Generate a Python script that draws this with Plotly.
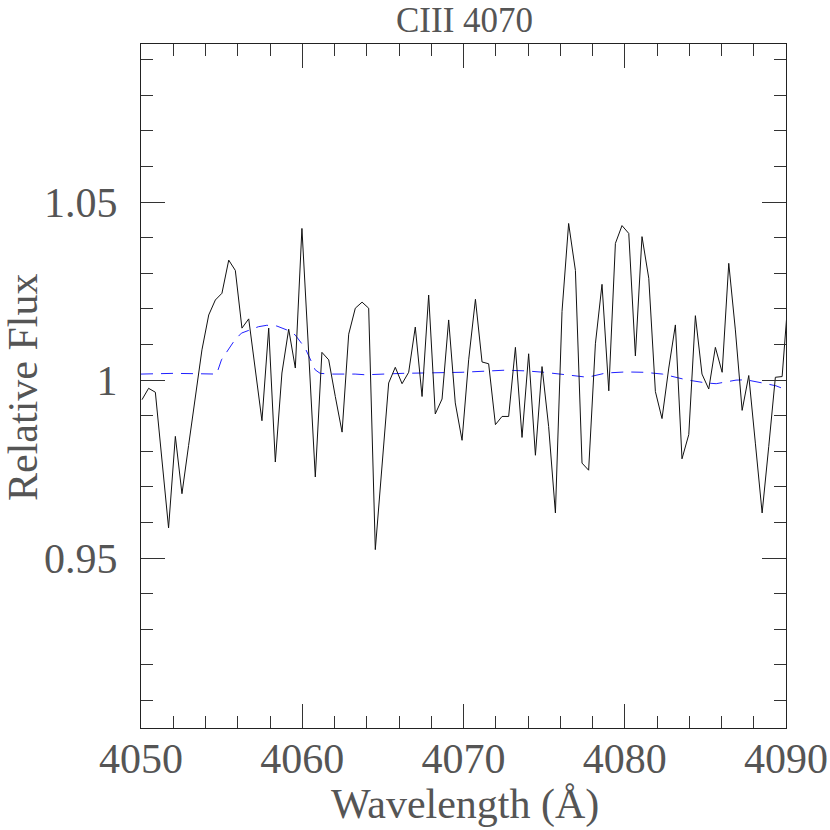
import plotly.graph_objects as go

# Observed spectrum (wavelength in Angstrom, relative flux)
wavelength = [
    4050.06, 4050.47, 4050.89, 4051.30, 4051.71, 4052.13, 4052.54, 4052.95, 4053.37, 4053.78,
    4054.20, 4054.61, 4055.02, 4055.44, 4055.85, 4056.26, 4056.68, 4057.09, 4057.50, 4057.92,
    4058.33, 4058.74, 4059.16, 4059.57, 4059.98, 4060.40, 4060.81, 4061.22, 4061.64, 4062.05,
    4062.47, 4062.88, 4063.29, 4063.71, 4064.12, 4064.53, 4064.95, 4065.36, 4065.77, 4066.19,
    4066.60, 4067.01, 4067.43, 4067.84, 4068.25, 4068.67, 4069.08, 4069.49, 4069.91, 4070.32,
    4070.74, 4071.15, 4071.56, 4071.98, 4072.39, 4072.80, 4073.22, 4073.63, 4074.04, 4074.46,
    4074.87, 4075.28, 4075.70, 4076.11, 4076.52, 4076.94, 4077.35, 4077.76, 4078.18, 4078.59,
    4079.01, 4079.42, 4079.83, 4080.25, 4080.66, 4081.07, 4081.49, 4081.90, 4082.31, 4082.73,
    4083.14, 4083.55, 4083.97, 4084.38, 4084.79, 4085.21, 4085.62, 4086.04, 4086.45, 4086.86,
    4087.28, 4087.69, 4088.10, 4088.52, 4088.93, 4089.34, 4089.76, 4090.17,
]
flux = [
    0.9945, 0.9977, 0.9966, 0.9776, 0.9585, 0.9842, 0.9681, 0.9816, 0.9951, 1.0085,
    1.0183, 1.0225, 1.0244, 1.0337, 1.0308, 1.0146, 1.0172, 1.0029, 0.9886, 1.0146,
    0.9770, 1.0020, 1.0143, 1.0034, 1.0426, 1.0076, 0.9728, 1.0078, 1.0057, 0.9954,
    0.9854, 1.0129, 1.0202, 1.0219, 1.0202, 0.9524, 0.9758, 0.9992, 1.0036, 0.9990,
    1.0022, 1.0149, 0.9954, 1.0239, 0.9905, 0.9947, 1.0169, 0.9936, 0.9831, 1.0057,
    1.0227, 1.0051, 1.0046, 0.9875, 0.9898, 0.9898, 1.0092, 0.9839, 1.0074, 0.9789,
    1.0038, 0.9870, 0.9627, 1.0193, 1.0440, 1.0308, 0.9767, 0.9747, 1.0102, 1.0269,
    0.9970, 1.0384, 1.0434, 1.0412, 1.0068, 1.0403, 1.0286, 0.9968, 0.9892, 1.0034,
    1.0155, 0.9779, 0.9847, 1.0181, 1.0017, 0.9975, 1.0092, 1.0022, 1.0328, 1.0141,
    0.9915, 1.0013, 0.9823, 0.9627, 0.9814, 1.0008, 1.0010, 1.0253,
]

# Model spectrum (blue dashed)
model_wavelength = [
    4050.00, 4052.00, 4053.50, 4054.50, 4054.69, 4054.99, 4055.41, 4055.82, 4056.23, 4056.75,
    4057.28, 4057.80, 4058.42, 4059.04, 4059.56, 4060.18, 4060.80, 4061.11, 4061.83, 4063.28,
    4063.92, 4066.19, 4068.46, 4069.91, 4072.61, 4073.85, 4074.99, 4076.23, 4076.56, 4077.69,
    4078.83, 4080.07, 4081.20, 4082.34, 4083.17, 4083.81, 4085.05, 4085.67, 4086.90, 4087.52,
    4088.76, 4089.38, 4090.00,
]
model_flux = [
    1.0017, 1.0019, 1.0018, 1.0016, 1.0017, 1.0057, 1.0085, 1.0113, 1.0132, 1.0141,
    1.0150, 1.0154, 1.0152, 1.0141, 1.0127, 1.0090, 1.0029, 1.0019, 1.0017, 1.0017,
    1.0015, 1.0019, 1.0021, 1.0022, 1.0028, 1.0026, 1.0022, 1.0017, 1.0014, 1.0008,
    1.0020, 1.0023, 1.0022, 1.0017, 1.0009, 1.0001, 0.9992, 0.9990, 1.0000, 1.0001,
    0.9990, 0.9984, 0.9973,
]

x_tickvals = [4050, 4060, 4070, 4080, 4090]
x_ticktext = ["4050", "4060", "4070", "4080", "4090"]
y_tickvals = [0.95, 1.0, 1.05]
y_ticktext = ["0.95", "1", "1.05"]

title_text = "CIII 4070"
x_title = "Wavelength (Å)"
y_title = "Relative Flux"

FONT = "Liberation Serif"
GREY = "#555555"

fig = go.Figure()
fig.add_trace(go.Scatter(
    x=model_wavelength, y=model_flux, mode="lines",
    line=dict(color="#2020ff", width=1, dash="12px,8px"),
    showlegend=False, hoverinfo="skip",
))
fig.add_trace(go.Scatter(
    x=wavelength, y=flux, mode="lines",
    line=dict(color="#111111", width=1),
    showlegend=False,
))

axis_common = dict(
    showgrid=False, zeroline=False, automargin=False,
    showline=True, linecolor="#222222", linewidth=1, mirror="ticks",
    ticks="inside", ticklen=24, tickwidth=1, tickcolor="#333333",
    tickfont=dict(family=FONT, size=42, color=GREY),
)

fig.update_layout(
    width=830, height=830,
    margin=dict(l=141, r=44, t=44, b=102, autoexpand=False),
    paper_bgcolor="white", plot_bgcolor="white",
    xaxis=dict(
        range=[4050, 4090], tickvals=x_tickvals, ticktext=x_ticktext,
        minor=dict(dtick=2, ticklen=12, ticks="inside", tickcolor="#333333"),
        ticklabelstandoff=-6,
        **axis_common,
    ),
    yaxis=dict(
        range=[0.9023, 1.0944], tickvals=y_tickvals, ticktext=y_ticktext,
        minor=dict(dtick=0.01, tick0=0.9, ticklen=12, ticks="inside", tickcolor="#333333"),
        ticklabelstandoff=14,
        **axis_common,
    ),
    annotations=[
        dict(text=title_text, xref="paper", yref="paper", x=0.502, y=(728 - 21) / 684,
             xanchor="center", yanchor="middle", showarrow=False,
             font=dict(family=FONT, size=35, color=GREY)),
        dict(text=x_title, xref="paper", yref="paper", x=0.502, y=(728 - 804) / 684,
             xanchor="center", yanchor="middle", showarrow=False,
             font=dict(family=FONT, size=42, color=GREY)),
        dict(text=y_title, xref="paper", yref="paper", x=(23 - 141) / 645, y=(728 - 388) / 684,
             xanchor="center", yanchor="middle", showarrow=False, textangle=-90,
             font=dict(family=FONT, size=42, color=GREY)),
    ],
)

# remove the default 8px page margin so the figure sits at the window origin
fig.write_html("out.html", config={"displayModeBar": False},
               post_script="document.body.style.margin='0';")
